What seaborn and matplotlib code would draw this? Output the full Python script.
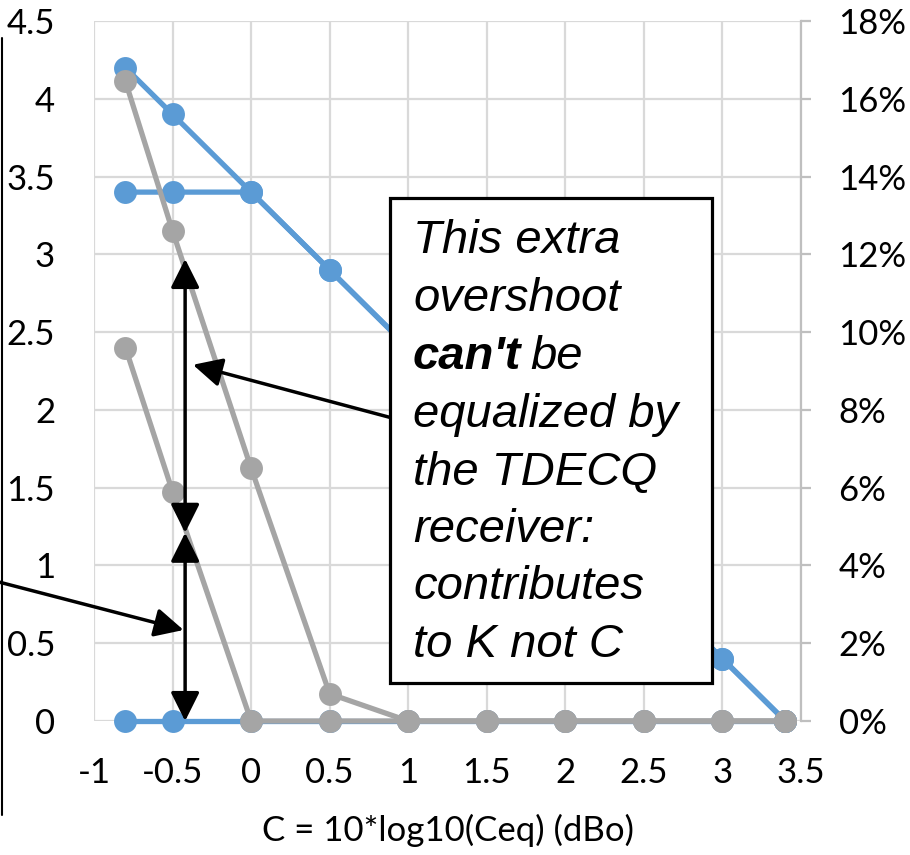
import matplotlib
matplotlib.use("Agg")
import matplotlib.pyplot as plt
import seaborn as sns
from matplotlib.patches import Rectangle
from matplotlib.lines import Line2D

# values
c_db = [-0.8, -0.5, 0, 0.5, 1, 1.5, 2, 2.5, 3, 3.4]
blue_top = [4.2, 3.9, 3.4, 2.9, 2.4, 1.9, 1.4, 0.9, 0.4, 0.0]
blue_flat = [3.4, 3.4, 3.4, 2.9, 2.4, 1.9, 1.4, 0.9, 0.4, 0.0]
blue_zero = [0, 0, 0, 0, 0, 0, 0, 0, 0, 0]
gray_high_pct = [16.45, 12.6, 6.5, 0.7, 0, 0, 0, 0, 0, 0]
gray_low_pct = [9.6, 5.9, 0, 0, 0, 0, 0, 0, 0, 0]

x_ticks = [-1, -0.5, 0, 0.5, 1, 1.5, 2, 2.5, 3, 3.5]
x_labels = ["-1", "-0.5", "0", "0.5", "1", "1.5", "2", "2.5", "3", "3.5"]
left_ticks = [0, 0.5, 1, 1.5, 2, 2.5, 3, 3.5, 4, 4.5]
left_labels = ["0", "0.5", "1", "1.5", "2", "2.5", "3", "3.5", "4", "4.5"]
right_ticks = [0, 2, 4, 6, 8, 10, 12, 14, 16, 18]
right_labels = [f"{v}%" for v in right_ticks]

note_lines = ["This extra", "overshoot", "", "equalized by", "the TDECQ",
              "receiver:", "contributes", "to K not C"]

BLUE = "#5B9BD5"
GRAY = "#A5A5A5"
W, H = 910, 855

sns.set_theme(style="white")
plt.rcParams["font.family"] = ["Lato", "DejaVu Sans"]
plt.rcParams["text.color"] = "black"
plt.rcParams["axes.labelcolor"] = "black"

fig = plt.figure(figsize=(W / 100, H / 100), dpi=100)
ax = fig.add_axes([94 / W, 1 - 721 / H, (801 - 94) / W, (721 - 21) / H])
ax2 = ax.twinx()

line_kw = dict(marker="o", markersize=16.5, markeredgewidth=0, linewidth=3.8, clip_on=False)
sns.lineplot(x=c_db, y=blue_zero, color=BLUE, ax=ax, **line_kw)
sns.lineplot(x=c_db, y=blue_flat, color=BLUE, ax=ax, **line_kw)
sns.lineplot(x=c_db, y=blue_top, color=BLUE, ax=ax, **line_kw)
sns.lineplot(x=c_db, y=gray_low_pct, color=GRAY, ax=ax2, **line_kw)
sns.lineplot(x=c_db, y=gray_high_pct, color=GRAY, ax=ax2, **line_kw)

ax.set_xlim(-1, 3.5)
ax.set_ylim(0, 4.5)
ax2.set_ylim(0, 18)
ax.set_xticks(x_ticks, x_labels)
ax.set_yticks(left_ticks, left_labels)
ax2.set_yticks(right_ticks, right_labels)
ax.grid(True, color="#D9D9D9", linewidth=1.6)
ax.set_axisbelow(True)

for s in ax.spines.values():
    s.set_visible(False)
for s in ax2.spines.values():
    s.set_visible(False)
ax2.spines["right"].set_visible(True)
ax2.spines["right"].set_color("#BFBFBF")
ax2.spines["right"].set_linewidth(1.6)

ax.tick_params(axis="both", length=0, labelsize=25, labelcolor="black")
ax.tick_params(axis="y", pad=28)
ax.tick_params(axis="x", pad=26)
ax2.tick_params(axis="y", length=7, width=1.6, color="#BFBFBF", labelsize=25,
                labelcolor="black", pad=20)

ax.set_xlabel("C = 10*log10(Ceq) (dBo)", fontsize=25, labelpad=18, color="black")
ax.set_ylabel("")
ax2.set_ylabel("")

# arrows
arr = dict(arrowstyle="-|>,head_length=0.8,head_width=0.4", mutation_scale=22,
           color="black", lw=2.5, shrinkA=0, shrinkB=0)
dbl = dict(arr, arrowstyle="<|-|>,head_length=0.8,head_width=0.4")
ax2.annotate("", xy=(-0.42, 2.97), xytext=(-0.42, 1.21), xycoords=ax.transData,
             textcoords=ax.transData, arrowprops=dbl)
ax2.annotate("", xy=(-0.42, 1.21), xytext=(-0.42, 0.0), xycoords=ax.transData,
             textcoords=ax.transData, arrowprops=dbl)
ax2.annotate("", xy=(-0.37, 2.29), xytext=(0.89, 1.95), xycoords=ax.transData,
             textcoords=ax.transData, arrowprops=arr)
ax2.annotate("", xy=(-0.43, 0.585), xytext=(-1.63, 0.9), xycoords=ax.transData,
             textcoords=ax.transData, arrowprops=arr, annotation_clip=False)

# cropped frame edge on the far left
fig.add_artist(Line2D([2 / W, 2 / W], [1 - 38 / H, 1 - 815 / H],
                      transform=fig.transFigure, color="black", lw=1.5))

# note box
fig.add_artist(Rectangle((390 / W, 1 - 683 / H), (712 - 390) / W, (683 - 198) / H,
                         transform=fig.transFigure, facecolor="white",
                         edgecolor="black", lw=2.3, zorder=5))
note_font = dict(fontsize=34, style="italic", family=["Liberation Sans", "DejaVu Sans"],
                 color="black", va="baseline", ha="left", zorder=6)
baselines = [253, 311, 369, 427, 485, 542, 599, 657]
for txt, yb in zip(note_lines, baselines):
    if txt:
        fig.text(413 / W, 1 - yb / H, txt, **note_font)
t_cant = fig.text(413 / W, 1 - baselines[2] / H, "can't", fontweight="bold", **note_font)
fig.canvas.draw()
bb = t_cant.get_window_extent()
fig.text((bb.x1 + 9) / W, 1 - baselines[2] / H, "be", **note_font)

fig.savefig("out.png", dpi=100)
